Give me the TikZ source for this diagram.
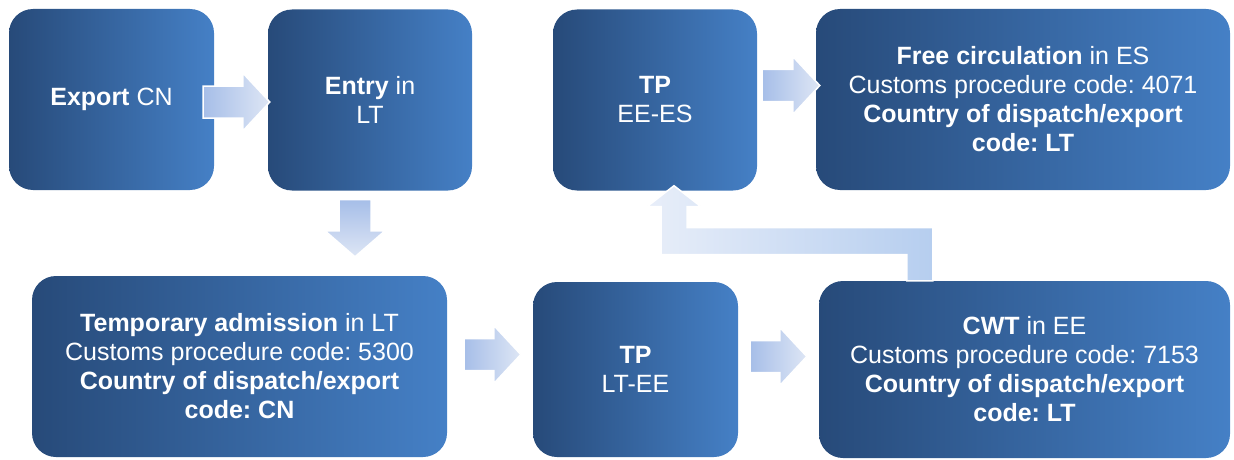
\documentclass[tikz,border=0pt]{standalone}
\usepackage{fontspec}
\setmainfont{Liberation Sans}
\usetikzlibrary{calc}
\frenchspacing

\definecolor{boxdark}{RGB}{39,74,121}
\definecolor{boxlight}{RGB}{69,128,198}
\definecolor{arrowdeep}{RGB}{166,190,232}
\definecolor{arrowpale}{RGB}{222,230,245}
\definecolor{bendpale}{RGB}{232,238,249}
\definecolor{benddeep}{RGB}{182,206,239}

\tikzset{
  stage/.style={rounded corners=24pt, left color=boxdark, right color=boxlight,
    text=white, align=center, inner sep=0pt, font=\fontsize{25}{29}\selectfont},
  flow/.style={draw=white, line width=1.5pt}
}

% block arrow to the right: #1 start, #2 tip
\newcommand{\flowright}[2]{%
  \path[flow, left color=arrowdeep, right color=arrowpale] let \p1=(#1), \p2=(#2) in
    (\x1,\y2+16pt) -- (\x2-27pt,\y2+16pt) -- (\x2-27pt,\y2+29pt) -- (\x2,\y2)
    -- (\x2-27pt,\y2-29pt) -- (\x2-27pt,\y2-16pt) -- (\x1,\y2-16pt) -- cycle;}
% block arrow downwards: #1 start, #2 tip
\newcommand{\flowdown}[2]{%
  \path[flow, top color=arrowdeep, bottom color=arrowpale] let \p1=(#1), \p2=(#2) in
    (\x1-16pt,\y1) -- (\x1+16pt,\y1) -- (\x1+16pt,\y2+26pt) -- (\x1+30pt,\y2+26pt)
    -- (\x1,\y2) -- (\x1-30pt,\y2+26pt) -- (\x1-16pt,\y2+26pt) -- cycle;}

\begin{document}
\begin{tikzpicture}[x=1pt, y=-1pt]
\useasboundingbox (0,0) rectangle (1234,460);

% top row
\node[stage, minimum width=205, minimum height=181] (export) at (111.5,99.5) {\textbf{Export} CN};
\node[stage, minimum width=204, minimum height=181] (entry) at (370,100) {\textbf{Entry} in\\LT};
\node[stage, minimum width=204, minimum height=181] (tpeees) at (655,100) {\textbf{TP}\\EE-ES};
\node[stage, minimum width=414, minimum height=181] (free) at (1023,99.5)
  {\textbf{Free circulation} in ES\\Customs procedure code: 4071\\\textbf{Country of dispatch/export}\\\textbf{code: LT}};

% bottom row
\node[stage, minimum width=415, minimum height=181] (temp) at (239.5,366.5)
  {\textbf{Temporary admission} in LT\\Customs procedure code: 5300\\\textbf{Country of dispatch/export}\\\textbf{code: CN}};
\node[stage, minimum width=205, minimum height=175] (tpltee) at (635.5,369.5) {\textbf{TP}\\LT-EE};
\node[stage, minimum width=411, minimum height=177] (cwt) at (1024.5,369.5)
  {\textbf{CWT} in EE\\Customs procedure code: 7153\\\textbf{Country of dispatch/export}\\\textbf{code: LT}};

% arrows between stages
\flowright{$(export.east)+(-11,0)$}{$(entry.west)+(2,2)$}
\flowdown{$(entry.south)+(-15,9)$}{$(temp.north)+(0,-19)$}
\flowright{$(temp.east)+(17,0)$}{$(tpltee.west)+(-12,-15)$}
\flowright{$(tpltee.east)+(12,0)$}{$(cwt.west)+(-12,-13)$}
\flowright{$(tpeees.east)+(5,0)$}{$(free.west)+(4,-14)$}

% bent arrow from CWT back up to TP EE-ES
\coordinate (bendfoot) at ($(cwt.north west)+(101,0)$);
\coordinate (bendtip) at ($(tpeees.south)+(19,-5)$);
\path[flow, left color=bendpale, right color=benddeep] let \p1=(bendfoot), \p2=(bendtip) in
  (\x1-13pt,\y1) -- (\x1+13pt,\y1) -- (\x1+13pt,\y2-42pt) -- (\x2+13pt,\y2-42pt)
  -- (\x2+13pt,\y2-21pt) -- (\x2+27pt,\y2-21pt) -- (\x2,\y2) -- (\x2-27pt,\y2-21pt)
  -- (\x2-13pt,\y2-21pt) -- (\x2-13pt,\y2-69pt) -- (\x1-13pt,\y2-69pt) -- cycle;
\end{tikzpicture}
\end{document}
